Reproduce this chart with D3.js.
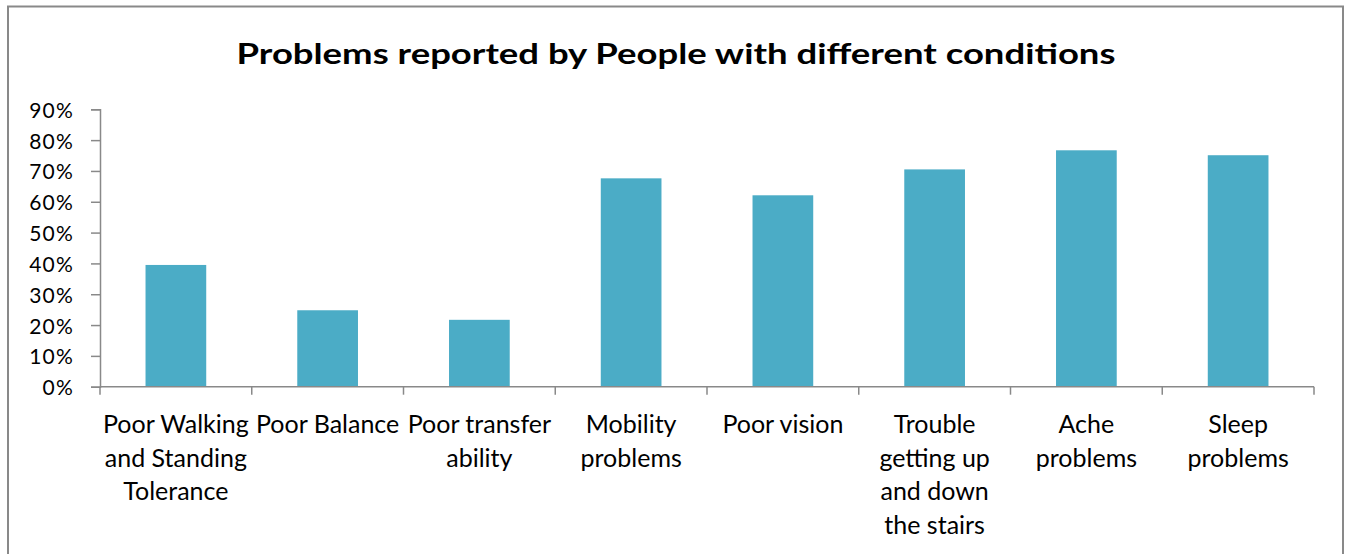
<!DOCTYPE html>
<html>
<head>
<meta charset="utf-8">
<script src="https://cdn.jsdelivr.net/npm/d3@7"></script>
<style>
  body { margin: 0; background: #fff; }
  text { font-family: Lato, "Open Sans", sans-serif; fill: #000; }
</style>
</head>
<body>
<div id="chart"></div>
<script>
/**
 * Data
 */
const categories = [
    "Poor Walking and Standing Tolerance",
    "Poor Balance",
    "Poor transfer ability",
    "Mobility problems",
    "Poor vision",
    "Trouble getting up and down the stairs",
    "Ache problems",
    "Sleep problems"
];
// how each category label breaks into lines
const labelLines = [
    ["Poor Walking", "and Standing", "Tolerance"],
    ["Poor Balance"],
    ["Poor transfer", "ability"],
    ["Mobility", "problems"],
    ["Poor vision"],
    ["Trouble", "getting up", "and down", "the stairs"],
    ["Ache", "problems"],
    ["Sleep", "problems"]
];
const values = [39.5, 24.8, 21.7, 67.6, 62.1, 70.5, 76.7, 75.1];
const yTicks = [0, 10, 20, 30, 40, 50, 60, 70, 80, 90];
const title = "Problems reported by People with different conditions";

/**
 * Layout
 */
const width = 1345, height = 554,
    margin = { top: 109.3, bottom: 167.3, left: 100, right: 31 },
    barColor = "#4BACC6",
    axisColor = "#898989";

const svg = d3.select("#chart")
    .append("svg")
    .attr("width", width)
    .attr("height", height);

// outer frame of the chart area
svg.append("rect")
    .attr("x", 8)
    .attr("y", 6.5)
    .attr("width", 1335)
    .attr("height", 600)
    .attr("fill", "#fff")
    .attr("stroke", axisColor)
    .attr("stroke-width", 2);

// title (stretched to the width it has in the picture)
svg.append("text")
    .attr("x", 676)
    .attr("y", 64)
    .attr("text-anchor", "middle")
    .attr("font-family", "'Open Sans', sans-serif")
    .attr("font-weight", "bold")
    .attr("font-size", 28)
    .attr("textLength", 879)
    .attr("lengthAdjust", "spacingAndGlyphs")
    .text(title);

//SCALES
const xScale = d3.scaleBand()
    .domain(categories)
    .range([margin.left, width - margin.right])
    .paddingInner(0.6)
    .paddingOuter(0.3);

const yScale = d3.scaleLinear()
    .domain([0, 90])
    .range([height - margin.bottom, margin.top]);

const step = xScale.step();

// bars
svg.selectAll("rect.bar")
    .data(values)
    .join("rect")
    .attr("class", "bar")
    .attr("x", (d, i) => xScale(categories[i]))
    .attr("width", xScale.bandwidth())
    .attr("y", d => yScale(d))
    .attr("height", d => yScale(0) - yScale(d))
    .attr("fill", barColor);

//AXES
const yAxis = d3.axisLeft(yScale)
    .tickValues(yTicks)
    .tickSize(9)
    .tickPadding(17)
    .tickFormat(d => d + "%");

const yG = svg.append("g")
    .attr("transform", `translate(${margin.left},0)`)
    .call(yAxis);
yG.select(".domain").attr("stroke", axisColor).attr("stroke-width", 1.5);
yG.selectAll(".tick line").attr("stroke", axisColor).attr("stroke-width", 1.5);
yG.selectAll(".tick text")
    .attr("font-size", 21)
    .attr("font-family", "'Open Sans', sans-serif")
    .attr("letter-spacing", 1.2)
    .attr("fill", "#000")
    .attr("dy", "0.38em");

// x axis: the line plus tick marks on category boundaries
const xG = svg.append("g");
xG.append("line")
    .attr("x1", margin.left)
    .attr("x2", width - margin.right)
    .attr("y1", yScale(0))
    .attr("y2", yScale(0))
    .attr("stroke", axisColor)
    .attr("stroke-width", 1.5);

const boundaries = categories.map(c => xScale(c) - step * xScale.paddingOuter())
    .concat([width - margin.right]);
xG.selectAll("line.xtick")
    .data(boundaries)
    .join("line")
    .attr("class", "xtick")
    .attr("x1", d => d)
    .attr("x2", d => d)
    .attr("y1", yScale(0))
    .attr("y2", yScale(0) + 8)
    .attr("stroke", axisColor)
    .attr("stroke-width", 1.5);

// category labels
const labels = xG.selectAll("text.cat")
    .data(labelLines)
    .join("text")
    .attr("class", "cat")
    .attr("text-anchor", "middle")
    .attr("font-size", 25)
    .attr("transform", (d, i) => `translate(${xScale(categories[i]) + xScale.bandwidth() / 2},433)`);

labels.selectAll("tspan")
    .data(d => d)
    .join("tspan")
    .attr("x", 0)
    .attr("y", (d, i) => i * 33.5)
    .text(d => d);
</script>
</body>
</html>
